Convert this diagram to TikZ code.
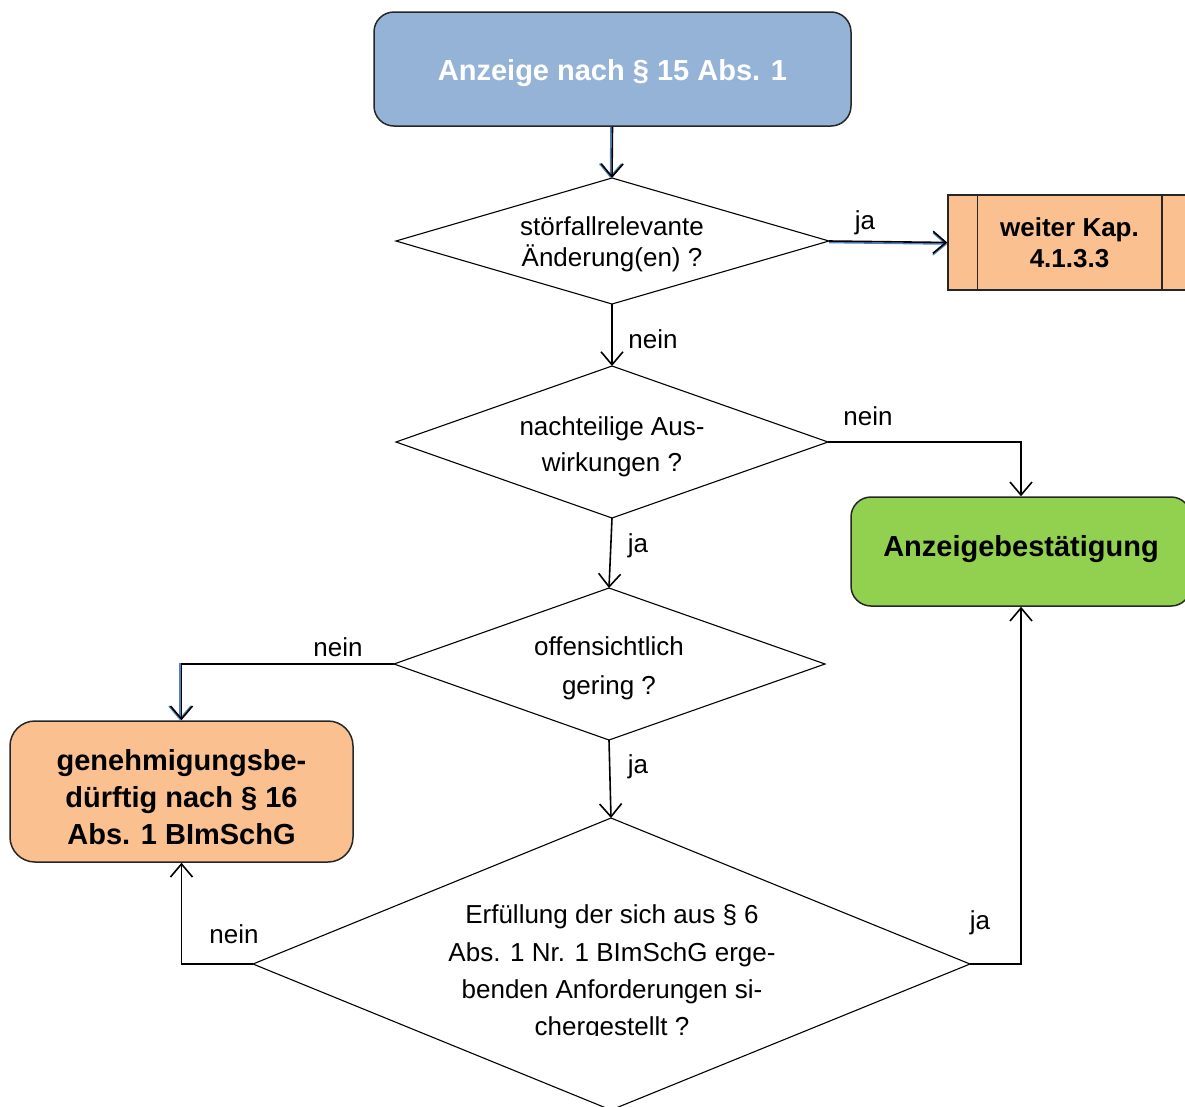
\documentclass[tikz,border=0pt]{standalone}
\usepackage{fontspec}
\setmainfont{Liberation Sans}
\usetikzlibrary{arrows.meta}
\definecolor{boxblue}{HTML}{95B3D7}
\definecolor{boxorange}{HTML}{FAC090}
\definecolor{boxgreen}{HTML}{92D050}
\definecolor{edgegray}{HTML}{262626}
\definecolor{shadowblue}{HTML}{4F81BD}
\begin{document}
\begin{tikzpicture}[x=1pt,y=-1pt,
  conn/.style={line width=1.6pt, draw=black, -{Straight Barb[length=13pt,width=22pt,line width=1.6pt]}},
  shadowconn/.style={line width=1.6pt, draw=shadowblue, -{Straight Barb[length=13pt,width=22pt,line width=1.6pt]}},
  diaedge/.style={line width=1.1pt, draw=black},
  boxbase/.style={draw=edgegray, line width=1.5pt, align=center, inner sep=0pt},
  boldtext/.style={font=\fontsize{29}{37}\selectfont\bfseries, align=center, inner sep=0pt},
  labeltext/.style={font=\fontsize{26}{31}\selectfont, inner sep=0pt},
  diatext/.style={font=\fontsize{26}{#1}\selectfont, align=center, inner sep=0pt}
]
\useasboundingbox (0,0) rectangle (1185,1106);
\clip (0,0) rectangle (1185,1106);

% boxes
\node[boxbase, fill=boxblue, rounded corners=20pt, minimum width=477pt, minimum height=114pt] (start) at (612.5,69) {};
\node[boldtext, text=white] (starttext) at (612.5,73) {Anzeige nach § 15 Abs. 1};
\node[boxbase, fill=boxorange, minimum width=243pt, minimum height=95pt,
      font=\fontsize{26}{31}\selectfont\bfseries] (weiter) at (1069.5,242.5) {weiter Kap.\\4.1.3.3};
\draw[edgegray, line width=1.5pt] ([xshift=30pt]weiter.north west) -- ([xshift=30pt]weiter.south west);
\draw[edgegray, line width=1.5pt] ([xshift=-30pt]weiter.north east) -- ([xshift=-30pt]weiter.south east);
\node[boxbase, fill=boxgreen, rounded corners=20pt, minimum width=340pt, minimum height=109pt] (green) at (1021,551.5) {};
\node[boldtext] (greentext) at (1021,549.5) {Anzeigebestätigung};
\node[boxbase, fill=boxorange, rounded corners=25pt, minimum width=343pt, minimum height=141pt] (orange) at (181.5,791.5) {};
\node[boldtext] (orangetext) at (181.5,797) {genehmigungsbe-\\dürftig nach § 16\\Abs. 1 BImSchG};

% diamonds
\coordinate (d1t) at (612,178); \coordinate (d1l) at (396,241); \coordinate (d1r) at (829,241); \coordinate (d1b) at (612,304);
\coordinate (d2t) at (612,366); \coordinate (d2l) at (396,442); \coordinate (d2r) at (828,442); \coordinate (d2b) at (612,518);
\coordinate (d3t) at (609,588); \coordinate (d3l) at (394,664); \coordinate (d3r) at (825,664); \coordinate (d3b) at (609,740);
\coordinate (d4t) at (611,818); \coordinate (d4l) at (253,964); \coordinate (d4r) at (970,964); \coordinate (d4b) at (611,1110);
\draw[diaedge] (d1t) -- (d1r) -- (d1b) -- (d1l) -- cycle;
\draw[diaedge] (d2t) -- (d2r) -- (d2b) -- (d2l) -- cycle;
\draw[diaedge] (d3t) -- (d3r) -- (d3b) -- (d3l) -- cycle;
\draw[diaedge] (d4t) -- (d4r) -- (d4b) -- (d4l) -- cycle;

\node[diatext=31] (q1) at (612,244) {störfallrelevante\\Änderung(en) ?};
\node[diatext=36] (q2) at (612,447) {nachteilige Aus-\\wirkungen ?};
\node[diatext=39] (q3) at (609,668) {offensichtlich\\gering ?};
\begin{scope}
\clip (300,880) rectangle (920,1035);
\node[diatext=37.3] (q4) at (612,973) {Erfüllung der sich aus § 6\\Abs. 1 Nr. 1 BImSchG erge-\\benden Anforderungen si-\\chergestellt ?};
\end{scope}

% connectors
\draw[shadowconn] ([xshift=-1.5pt]start.south) -- ([xshift=-1.5pt]d1t);
\draw[conn] (start.south) -- (d1t);
\draw[shadowconn] ([yshift=-1.5pt]d1r) -- ([yshift=-1.5pt]weiter.west);
\draw[conn] (d1r) -- (weiter.west);
\draw[conn] (d1b) -- (d2t);
\draw[conn] (d2r) -| (green.north);
\draw[conn] (d2b) -- (d3t);
\draw[shadowconn] ([xshift=-1.5pt]d3l) -| ([xshift=-1.5pt]orange.north);
\draw[conn] (d3l) -| (orange.north);
\draw[conn] (d3b) -- (d4t);
\draw[conn] (d4l) -| (orange.south);
\draw[conn] (d4r) -| (green.south);

% labels
\node[labeltext] (l1) at (865,223) {ja};
\node[labeltext] (l2) at (653,339) {nein};
\node[labeltext] (l3) at (868,416) {nein};
\node[labeltext] (l4) at (638,546) {ja};
\node[labeltext] (l5) at (338,647) {nein};
\node[labeltext] (l6) at (638,767) {ja};
\node[labeltext] (l7) at (234,934) {nein};
\node[labeltext] (l8) at (980,923) {ja};
\end{tikzpicture}
\end{document}
